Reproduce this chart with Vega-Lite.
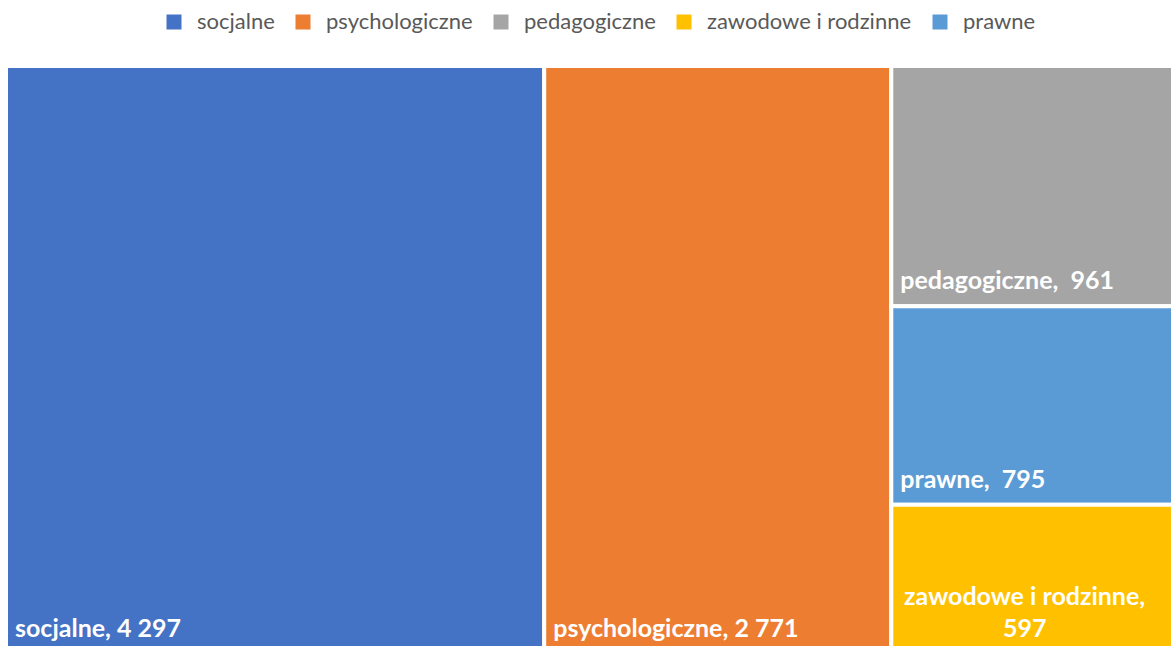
{
  "$schema": "https://vega.github.io/schema/vega-lite/v6.json",
  "width": 1180,
  "height": 588,
  "autosize": {"type": "none"},
  "padding": {"left": 6, "top": 66, "right": 0, "bottom": 0},
  "background": "white",
  "config": {"view": {"stroke": null}},
  "data": {
    "values": [
      {"category": "socjalne", "value": 4297, "column": 1, "order": 1},
      {"category": "psychologiczne", "value": 2771, "column": 2, "order": 1},
      {"category": "pedagogiczne", "value": 961, "column": 3, "order": 1},
      {"category": "prawne", "value": 795, "column": 3, "order": 2},
      {"category": "zawodowe i rodzinne", "value": 597, "column": 3, "order": 3}
    ]
  },
  "transform": [
    {"joinaggregate": [{"op": "sum", "field": "value", "as": "total"}]},
    {"joinaggregate": [{"op": "sum", "field": "value", "as": "colTotal"}], "groupby": ["column"]},
    {"window": [{"op": "sum", "field": "value", "as": "cum"}], "sort": [{"field": "column"}, {"field": "order"}], "frame": [null, 0]},
    {"window": [{"op": "sum", "field": "value", "as": "ycum"}], "groupby": ["column"], "sort": [{"field": "order"}], "frame": [null, 0]},
    {"joinaggregate": [{"op": "max", "field": "cum", "as": "colEnd"}], "groupby": ["column"]},
    {"calculate": "(datum.colEnd - datum.colTotal) / datum.total", "as": "x0"},
    {"calculate": "datum.colEnd / datum.total", "as": "x1"},
    {"calculate": "(datum.x0 + datum.x1) / 2", "as": "xm"},
    {"calculate": "(datum.ycum - datum.value) / datum.colTotal", "as": "y0"},
    {"calculate": "datum.ycum / datum.colTotal", "as": "y1"},
    {"calculate": "replace(format(datum.value, ','), ',', ' ')", "as": "num"},
    {"calculate": "datum.category == 'zawodowe i rodzinne' ? datum.category + ',\\n' + datum.num : datum.category + ',' + (datum.value < 1000 ? '\u00a0 ' : ' ') + datum.num", "as": "label"}
  ],
  "layer": [
    {
      "mark": {"type": "rect", "stroke": "white", "strokeWidth": 4},
      "encoding": {
        "x": {"field": "x0", "type": "quantitative", "scale": {"domain": [0, 1], "nice": false, "zero": false}, "axis": null},
        "x2": {"field": "x1"},
        "y": {"field": "y0", "type": "quantitative", "scale": {"domain": [0, 1], "nice": false, "zero": false, "reverse": true}, "axis": null},
        "y2": {"field": "y1"},
        "color": {
          "field": "category",
          "type": "nominal",
          "scale": {
            "domain": ["socjalne", "psychologiczne", "pedagogiczne", "zawodowe i rodzinne", "prawne"],
            "range": ["#4472C4", "#ED7D31", "#A5A5A5", "#FFC000", "#5B9BD5"]
          },
          "legend": {
            "title": null,
            "orient": "none",
            "legendX": 157,
            "legendY": -55,
            "direction": "horizontal",
            "symbolType": "square",
            "symbolSize": 225,
            "symbolStrokeWidth": 0,
            "symbolOpacity": 1,
            "labelFont": "Lato",
            "labelFontSize": 22,
            "labelColor": "#595959",
            "labelOffset": 12,
            "columnPadding": 17,
            "labelLimit": 400
          }
        }
      }
    },
    {
      "transform": [{"filter": "datum.category != 'zawodowe i rodzinne'"}],
      "mark": {"type": "text", "align": "left", "baseline": "alphabetic", "dx": 9, "dy": -17, "color": "white", "font": "Lato", "fontWeight": "bold", "fontSize": 25},
      "encoding": {
        "x": {"field": "x0", "type": "quantitative"},
        "y": {"field": "y1", "type": "quantitative"},
        "text": {"field": "label"}
      }
    },
    {
      "transform": [{"filter": "datum.category == 'zawodowe i rodzinne'"}],
      "mark": {"type": "text", "align": "center", "baseline": "alphabetic", "dx": -14, "dy": -49, "lineBreak": "\n", "lineHeight": 32, "color": "white", "font": "Lato", "fontWeight": "bold", "fontSize": 25},
      "encoding": {
        "x": {"field": "xm", "type": "quantitative"},
        "y": {"field": "y1", "type": "quantitative"},
        "text": {"field": "label"}
      }
    }
  ]
}
